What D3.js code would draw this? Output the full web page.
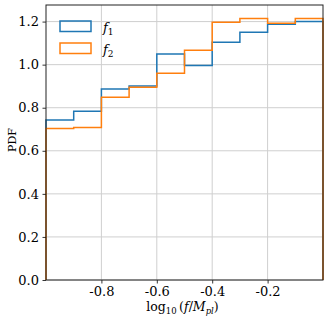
<!DOCTYPE html>
<head>
  <meta charset="utf-8">
  <script src="https://d3js.org/d3.v7.min.js"></script>
  <style>
    body {
      margin: 0;
      background: #fff;
    }

    svg text {
      font-family: "DejaVu Serif", serif !important;
      fill: #000;
    }

    .grid line {
      stroke: #cfcfcf;
      stroke-width: 1;
    }

    .step {
      fill: none;
      stroke-width: 1.5px;
      stroke-linejoin: miter;
    }
  </style>
</head>

<body>
  <svg id="chart" width="329" height="322"></svg>

  <script>
    // bin edges of log10(f/Mpl) and the two step histograms
    var binEdges = [-1.0, -0.9, -0.8, -0.7, -0.6, -0.5, -0.4, -0.3, -0.2, -0.1, 0.0];
    var f1 = [0.743, 0.784, 0.887, 0.901, 1.050, 0.996, 1.104, 1.151, 1.188, 1.200];
    var f2 = [0.703, 0.708, 0.849, 0.895, 0.960, 1.067, 1.197, 1.214, 1.192, 1.214];
    var seriesNames = ["f1", "f2"];
    var xTicks = [-0.8, -0.6, -0.4, -0.2];
    var yTicks = [0.0, 0.2, 0.4, 0.6, 0.8, 1.0, 1.2];

    var colors = ["#1f77b4", "#ff7f0e"];

    var svg = d3.select("#chart"),
      margin = { top: 5, right: 6, bottom: 42, left: 46 },
      width = 329,
      height = 322;

    var x = d3.scaleLinear()
      .domain([-1, 0])
      .range([margin.left, width - margin.right]);

    var y = d3.scaleLinear()
      .domain([0, 1.277])
      .range([height - margin.bottom, margin.top]);

    var fmt = d => d.toFixed(1);

    // grid
    var grid = svg.append("g").attr("class", "grid");

    grid.selectAll("line.gx")
      .data(xTicks)
      .join("line")
      .attr("class", "gx")
      .attr("x1", d => x(d)).attr("x2", d => x(d))
      .attr("y1", y.range()[0]).attr("y2", y.range()[1]);

    grid.selectAll("line.gy")
      .data(yTicks)
      .join("line")
      .attr("class", "gy")
      .attr("x1", x.range()[0]).attr("x2", x.range()[1])
      .attr("y1", d => y(d)).attr("y2", d => y(d));

    // histograms
    function stepPoints(vals) {
      var pts = [[binEdges[0], 0]];
      vals.forEach((v, i) => {
        pts.push([binEdges[i], v]);
        pts.push([binEdges[i + 1], v]);
      });
      pts.push([binEdges[binEdges.length - 1], 0]);
      return pts;
    }

    var line = d3.line()
      .x(d => x(d[0]))
      .y(d => y(d[1]));

    [f1, f2].forEach((vals, i) => {
      svg.append("path")
        .attr("class", "step")
        .attr("stroke", colors[i])
        .attr("d", line(stepPoints(vals)));
    });

    // axes
    var xAxis = svg.append("g")
      .attr("transform", "translate(0," + y(0) + ")")
      .call(d3.axisBottom(x).tickValues(xTicks).tickFormat(fmt).tickSize(3.5).tickPadding(3.5));

    var yAxis = svg.append("g")
      .attr("transform", "translate(" + x(-1) + ",0)")
      .call(d3.axisLeft(y).tickValues(yTicks).tickFormat(fmt).tickSize(3.5).tickPadding(3.5));

    [xAxis, yAxis].forEach(g => {
      g.attr("font-family", null).attr("font-size", null);
      g.select(".domain").remove();
      g.selectAll(".tick line").attr("stroke", "#000").attr("stroke-width", 0.8);
      g.selectAll(".tick text").style("font-size", "13px");
    });

    // frame
    svg.append("rect")
      .attr("x", x(-1))
      .attr("y", y(1.277))
      .attr("width", x(0) - x(-1))
      .attr("height", y(0) - y(1.277))
      .attr("fill", "none")
      .attr("stroke", "#222")
      .attr("stroke-width", 1);

    // labels
    svg.append("text")
      .attr("transform", "translate(12,140) rotate(-90)")
      .attr("text-anchor", "middle")
      .attr("dy", "0.35em")
      .style("font-size", "11px")
      .text("PDF");

    var xl = svg.append("text")
      .attr("x", (x(-1) + x(0)) / 2 - 2)
      .attr("y", 311)
      .attr("text-anchor", "middle")
      .style("font-size", "12.5px");
    xl.append("tspan").text("log");
    xl.append("tspan").attr("dy", 3).style("font-size", "8.5px").text("10");
    xl.append("tspan").attr("dy", -3).text("\u2009(");
    xl.append("tspan").style("font-style", "italic").text("f");
    xl.append("tspan").text("/");
    xl.append("tspan").style("font-style", "italic").text("M");
    xl.append("tspan").attr("dy", 3).style("font-size", "8.5px").style("font-style", "italic").text("pl");
    xl.append("tspan").attr("dy", -3).text(")");

    // legend
    var legend = svg.selectAll(".legend")
      .data(seriesNames)
      .join("g")
      .attr("class", "legend")
      .attr("transform", (d, i) => "translate(60," + (21 + i * 22) + ")");

    legend.append("rect")
      .attr("width", 31)
      .attr("height", 10.5)
      .attr("fill", "none")
      .attr("stroke-width", 1.5)
      .attr("stroke", (d, i) => colors[i]);

    var lt = legend.append("text")
      .attr("x", 43)
      .attr("y", 11)
      .style("font-size", "13px");
    lt.append("tspan").style("font-style", "italic").text("f");
    lt.append("tspan").attr("dy", 3).style("font-size", "9px").text(d => d.slice(1));
  </script>
</body>
